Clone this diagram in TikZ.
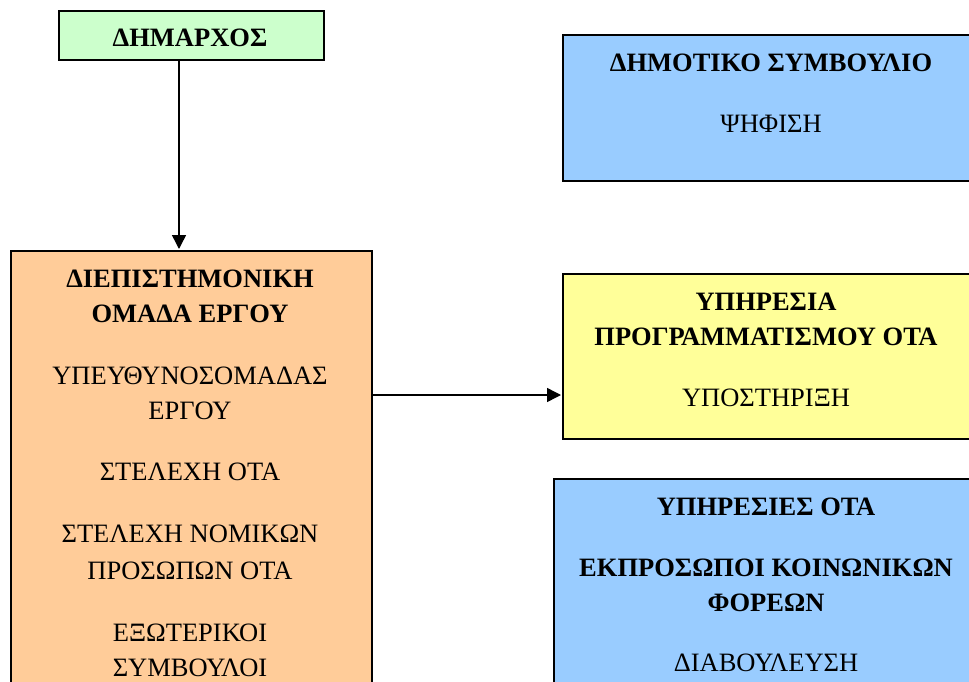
\documentclass[tikz,border=0pt]{standalone}
\usepackage{fontspec}
\setmainfont{Liberation Serif}
\usetikzlibrary{arrows.meta,positioning}
\definecolor{mayorgreen}{HTML}{CCFFCC}
\definecolor{teamorange}{HTML}{FFCC99}
\definecolor{boardblue}{HTML}{99CCFF}
\definecolor{planyellow}{HTML}{FFFF99}

\begin{document}
\begin{tikzpicture}[x=1pt,y=-1pt,>={Triangle[length=14pt,width=14pt]},
  box/.style={draw=black,line width=2pt,anchor=north west,inner sep=0pt},
  txt/.style={anchor=base,inner sep=0pt,font=\fontsize{26.5}{32}\selectfont},
  head/.style={txt,font=\fontsize{26.5}{32}\selectfont\bfseries}]
\useasboundingbox (0,0) rectangle (969,682);
\clip (0,0) rectangle (969,682);
  \node[box,fill=mayorgreen,minimum width=265pt,minimum height=49pt]  (M)  at (58,10)  {};
  \node[box,fill=teamorange,minimum width=361pt,minimum height=470pt] (T)  at (10,250) {};
  \node[box,fill=boardblue,minimum width=428pt,minimum height=146pt]  (C)  at (562,34) {};
  \node[box,fill=planyellow,minimum width=428pt,minimum height=165pt] (P)  at (562,273) {};
  \node[box,fill=boardblue,minimum width=437pt,minimum height=242pt]  (S)  at (553,478) {};
\node[head] (M1) at (190,47)    {ΔΗΜΑΡΧΟΣ};
\node[head] (T1) at (190,287)   {ΔΙΕΠΙΣΤΗΜΟΝΙΚΗ};
\node[head] (T2) at (190,322.5) {ΟΜΑΔΑ ΕΡΓΟΥ};
\node[txt]  (T3) at (190,384)   {ΥΠΕΥΘΥΝΟΣΟΜΑΔΑΣ};
\node[txt]  (T4) at (190,419)   {ΕΡΓΟΥ};
\node[txt]  (T5) at (190,480)   {ΣΤΕΛΕΧΗ ΟΤΑ};
\node[txt]  (T6) at (190,542)   {ΣΤΕΛΕΧΗ ΝΟΜΙΚΩΝ};
\node[txt]  (T7) at (190,579)   {ΠΡΟΣΩΠΩΝ ΟΤΑ};
\node[txt]  (T8) at (190,641)   {ΕΞΩΤΕΡΙΚΟΙ};
\node[txt]  (T9) at (190,676)   {ΣΥΜΒΟΥΛΟΙ};
\node[head] (C1) at (771,72)    {ΔΗΜΟΤΙΚΟ ΣΥΜΒΟΥΛΙΟ};
\node[txt]  (C2) at (771,132.5) {ΨΗΦΙΣΗ};
\node[head] (P1) at (766,310)   {ΥΠΗΡΕΣΙΑ};
\node[head] (P2) at (766,345.5) {ΠΡΟΓΡΑΜΜΑΤΙΣΜΟΥ ΟΤΑ};
\node[txt]  (P3) at (766,406.5) {ΥΠΟΣΤΗΡΙΞΗ};
\node[head] (S1) at (766,515)   {ΥΠΗΡΕΣΙΕΣ ΟΤΑ};
\node[head] (S2) at (766,576)   {ΕΚΠΡΟΣΩΠΟΙ ΚΟΙΝΩΝΙΚΩΝ};
\node[head] (S3) at (766,611.5) {ΦΟΡΕΩΝ};
\node[txt]  (S4) at (766,671.5) {ΔΙΑΒΟΥΛΕΥΣΗ};
\tikzset{link/.style={->,line width=1.5pt,shorten >=1pt}}
\coordinate (L) at ([yshift=-38.5pt]P.west);
\draw[link] ([xshift=-12.5pt]M.south) -- ([xshift=-12.5pt]T.north);
\draw[link] (T.east |- L) -- (L);
\end{tikzpicture}
\end{document}
